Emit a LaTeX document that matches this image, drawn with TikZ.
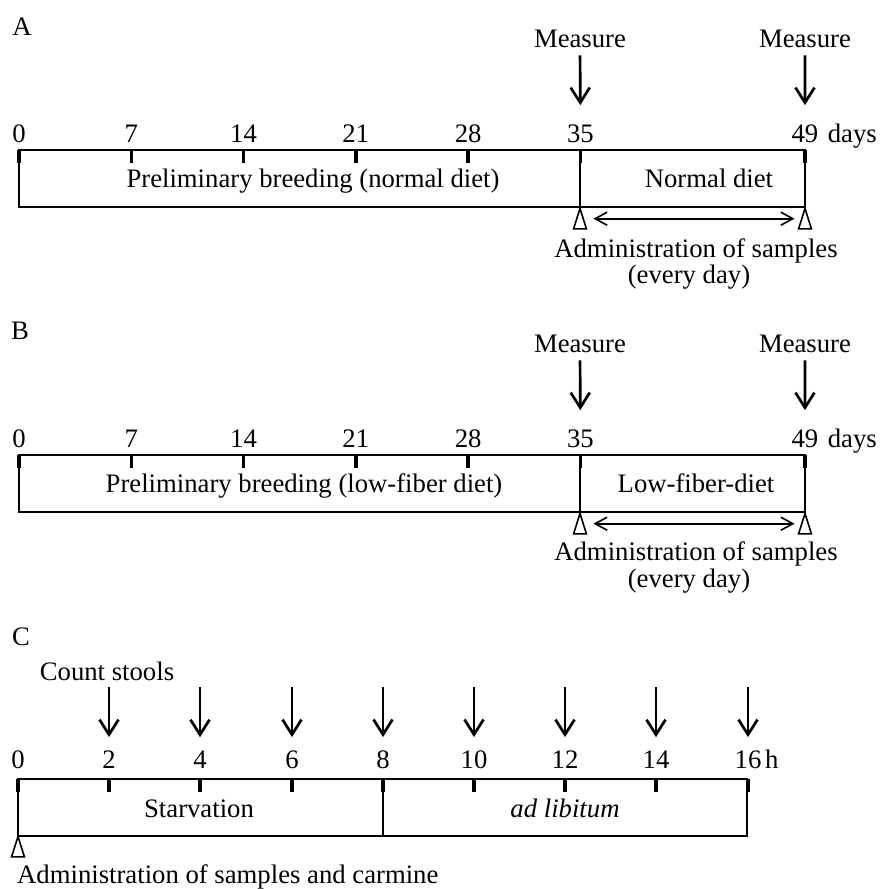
\documentclass[tikz,border=0pt]{standalone}
\usepackage{fontspec}
\setmainfont{Liberation Serif}
\usetikzlibrary{arrows.meta}

\tikzset{
  lbl/.style={inner sep=0pt,anchor=base},
  stage/.style={draw,line width=2pt,minimum height=57pt,inner sep=0pt},
  tickmark/.style={line width=3.5pt},
  measarrow/.style={line width=2.7pt,-{Straight Barb[length=15pt,width=19pt]}},
  dblarrow/.style={line width=1.6pt,{Straight Barb[length=12pt,width=13pt]}-{Straight Barb[length=12pt,width=13pt]}},
  marker/.style={inner sep=0pt,minimum width=12.5pt,minimum height=20pt,anchor=north},
  tri/.style={line width=1.6pt,line join=miter}
}

\begin{document}
\begin{tikzpicture}[x=1pt,y=-1pt,font=\fontsize{26.7}{26}\selectfont]
\useasboundingbox (0,0) rectangle (880,889);

% A
\node[lbl] (labA) at (22,35) {A};
\node[stage,minimum width=561pt] (boxA1) at (299.5,178.5) {};
\node[stage,minimum width=225pt] (boxA2) at (692.5,178.5) {};
\node[lbl] (pbA) at (313,187) {Preliminary breeding (normal diet)};
\node[lbl] (dietA) at (709,187) {Normal diet};
\foreach \d in {0,7,14,21,28,35,49}{
  \node[lbl] (nA\d) at (19+16.04*\d,142) {\d};
  \draw[tickmark] (19+16.04*\d,150) -- ++(0,13);
}
\node[lbl,anchor=base east] (daysA) at (877,142) {days};
\node[lbl] (mA35) at (580,47) {Measure};
\node[lbl] (mA49) at (805,47) {Measure};
\draw[measarrow,shorten <=8pt,shorten >=19pt] (mA35) -- (nA35);
\draw[measarrow,shorten <=8pt,shorten >=19pt] (mA49) -- (nA49);
\node[marker] (tA35) at (580,208.5) {};
\node[marker] (tA49) at (805,208.5) {};
\draw[dblarrow,shorten <=7pt,shorten >=4pt] (tA35) -- (tA49);
\node[lbl] (admA) at (696,257) {Administration of samples};
\node[lbl] (everyA) at (689,283) {(every day)};

% B
\node[lbl] (labB) at (20,339) {B};
\node[stage,minimum width=561pt] (boxB1) at (299.5,483.5) {};
\node[stage,minimum width=225pt] (boxB2) at (692.5,483.5) {};
\node[lbl] (pbB) at (304,492) {Preliminary breeding (low-fiber diet)};
\node[lbl] (dietB) at (696,492) {Low-fiber-diet};
\foreach \d in {0,7,14,21,28,35,49}{
  \node[lbl] (nB\d) at (19+16.04*\d,447) {\d};
  \draw[tickmark] (19+16.04*\d,455) -- ++(0,13);
}
\node[lbl,anchor=base east] (daysB) at (877,447) {days};
\node[lbl] (mB35) at (580,352) {Measure};
\node[lbl] (mB49) at (805,352) {Measure};
\draw[measarrow,shorten <=8pt,shorten >=19pt] (mB35) -- (nB35);
\draw[measarrow,shorten <=8pt,shorten >=19pt] (mB49) -- (nB49);
\node[marker] (tB35) at (580,513.5) {};
\node[marker] (tB49) at (805,513.5) {};
\draw[dblarrow,shorten <=7pt,shorten >=4pt] (tB35) -- (tB49);
\node[lbl] (admB) at (696,560) {Administration of samples};
\node[lbl] (everyB) at (689,587) {(every day)};

% C
\node[lbl] (labC) at (21,645) {C};
\node[lbl] (count) at (107,680) {Count stools};
\node[stage,minimum width=365pt] (boxC1) at (200.5,807) {};
\node[stage,minimum width=364pt] (boxC2) at (565,807) {};
\node[lbl] (starv) at (199,817) {Starvation};
\node[lbl] (adlib) at (565,817) {\itshape ad libitum};
\foreach \h in {0,2,...,16}{
  \node[lbl] (nC\h) at ({round(18+45.6*\h)},768) {\h};
  \draw[tickmark] ({round(18+45.6*\h)},779) -- ++(0,13);
}
\node[lbl,anchor=base west] (hC) at (765,768) {h};
\foreach \h in {2,4,...,16}{
  \coordinate (cC\h) at ({round(18+45.6*\h)},687);
  \draw[measarrow,shorten >=13pt] (cC\h) -- (nC\h);
}
\node[marker] (tC0) at (18,836.5) {};
\node[lbl,anchor=base west] (admC) at (17,883) {Administration of samples and carmine};

% open triangles under the boxes
\foreach \t in {tA35,tA49,tB35,tB49,tC0}
  \draw[tri] (\t.north) -- (\t.south west) -- (\t.south east) -- cycle;

\end{tikzpicture}
\end{document}
